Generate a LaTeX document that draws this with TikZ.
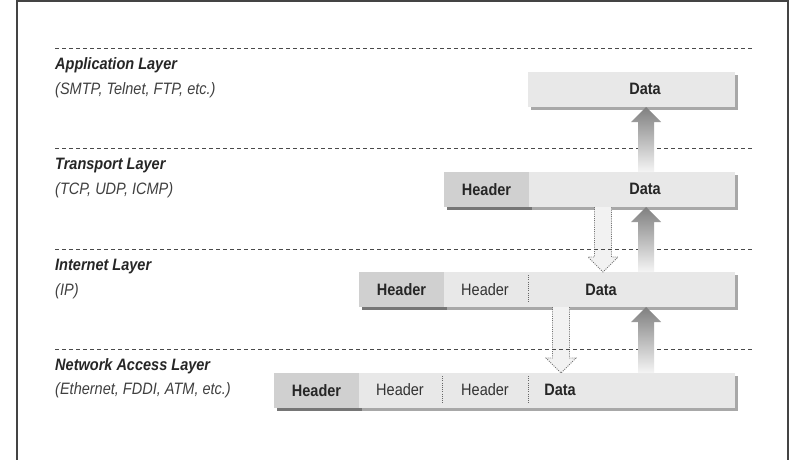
\documentclass[tikz,border=0pt]{standalone}
\usepackage{fontspec}
\setmainfont{Liberation Sans}[FakeStretch=0.88]
\usetikzlibrary{shadows,calc}
\definecolor{hdrfill}{HTML}{D0D0D0}
\definecolor{segfill}{HTML}{E8E8E8}
\definecolor{hdrshadow}{HTML}{767676}
\definecolor{segshadow}{HTML}{A8A8A8}
\definecolor{framecol}{HTML}{444444}
\definecolor{dashcol}{HTML}{4A4A4A}
\newcommand\fatup[2]{%
  \path[uparrow] let \p1=(#1), \p2=(#2) in
    (\x1-8pt,\y1) -- (\x1-8pt,\y2-15pt) -- (\x1-15pt,\y2-15pt) -- (\x1,\y2)
    -- (\x1+15pt,\y2-15pt) -- (\x1+8pt,\y2-15pt) -- (\x1+8pt,\y1) -- cycle;}
\newcommand\fatdown[2]{%
  \path[downarrow] let \p1=(#1), \p2=(#2) in
    (\x1-8.5pt,\y1) -- (\x1-8.5pt,\y2+15pt) -- (\x1-15pt,\y2+15pt) -- (\x1,\y2)
    -- (\x1+15pt,\y2+15pt) -- (\x1+8.5pt,\y2+15pt) -- (\x1+8.5pt,\y1);}
\begin{document}
\begin{tikzpicture}[x=1pt,y=-1pt,
  font=\fontsize{16.5}{19}\selectfont,
  frame/.style={draw=framecol, line width=1.5pt},
  dashline/.style={draw=dashcol, line width=0.9pt, dash pattern=on 4pt off 3pt},
  seg/.style={anchor=north west, inner sep=0pt, outer sep=0pt, minimum height=35pt, text=black!85},
  hdr/.style={seg, fill=hdrfill, font=\fontsize{16.5}{19}\selectfont\bfseries,
    drop shadow={shadow xshift=3pt, shadow yshift=-3pt, fill=hdrshadow, opacity=1}},
  lightseg/.style={seg, fill=segfill,
    drop shadow={shadow xshift=3pt, shadow yshift=-3pt, fill=segshadow, opacity=1}},
  datalbl/.style={anchor=base, inner sep=0pt, text=black!85, font=\fontsize{16.5}{19}\selectfont\bfseries},
  plainlbl/.style={anchor=base, inner sep=0pt, text=black!80},
  layername/.style={anchor=base west, inner sep=0pt, text=black!85, font=\fontsize{16.5}{19}\selectfont\bfseries\itshape},
  layerproto/.style={anchor=base west, inner sep=0pt, text=black!75, font=\fontsize{16.5}{19}\selectfont\itshape},
  divider/.style={draw=black!60, line width=0.8pt, dash pattern=on 1pt off 1.2pt},
  uparrow/.style={top color=black!50, bottom color=black!4, draw=none},
  downarrow/.style={fill=black!5, draw=black!55, line width=0.8pt, dash pattern=on 1pt off 1.2pt}
]
\useasboundingbox (0,0) rectangle (795,460);
\fill[white] (0,0) rectangle (795,460);
% frame
\draw[frame] (17,461) -- (17,1) -- (788,1) -- (788,461);

% layer labels
\node[layername]  (lapp)  at (55,70)  {Application Layer};
\node[layerproto] (papp)  at (55,94)  {(SMTP, Telnet, FTP, etc.)};
\node[layername]  (ltr)   at (55,169) {Transport Layer};
\node[layerproto] (ptr)   at (55,194) {(TCP, UDP, ICMP)};
\node[layername]  (lin)   at (55,270) {Internet Layer};
\node[layerproto] (pin)   at (55,295) {(IP)};
\node[layername]  (lnet)  at (55,370) {Network Access Layer};
\node[layerproto] (pnet)  at (55,394) {(Ethernet, FDDI, ATM, etc.)};

% application box
\node[lightseg, minimum width=207pt] (app) at (528,72) {};
\node[datalbl] (appdata) at (645,94) {Data};

% transport box
\node[hdr, minimum width=85pt] (trh) at (444,172) {Header};
\node[lightseg, minimum width=206pt] (trd) at (529,172) {};
\node[datalbl] (trdata) at (645,194) {Data};

% internet box
\node[hdr, minimum width=85pt] (inh) at (359,272) {Header};
\node[lightseg, minimum width=291pt] (inl) at (444,272) {};
\node[plainlbl] (inhd) at (485,295) {Header};
\node[datalbl] (indata) at (601,295) {Data};
\draw[divider] (528,275) -- (528,303);

% network access box
\node[hdr, minimum width=85pt] (neth) at (274,373) {Header};
\node[lightseg, minimum width=376pt] (netl) at (359,373) {};
\node[plainlbl] (nethd1) at (400,395) {Header};
\node[plainlbl] (nethd2) at (485,395) {Header};
\node[datalbl] (netdata) at (560,395) {Data};
\draw[divider] (442,376) -- (442,404);
\draw[divider] (528,376) -- (528,404);

% arrow axes
\coordinate (upx) at (646,0);
\coordinate (dnax) at (603,0);
\coordinate (dnbx) at (561,0);

% down (encapsulation) arrows
\fatdown{dnax |- trh.south}{dnax |- inl.north}
\fatdown{dnbx |- inl.south}{dnbx |- netl.north}

% dashed layer separators
\foreach \yy in {48,148,249,349}
  \draw[dashline] (55,\yy) -- (754,\yy);

% up arrows
\fatup{upx |- trd.north}{upx |- app.south}
\fatup{upx |- inl.north}{upx |- trd.south}
\fatup{upx |- netl.north}{upx |- inl.south}
\end{tikzpicture}
\end{document}
